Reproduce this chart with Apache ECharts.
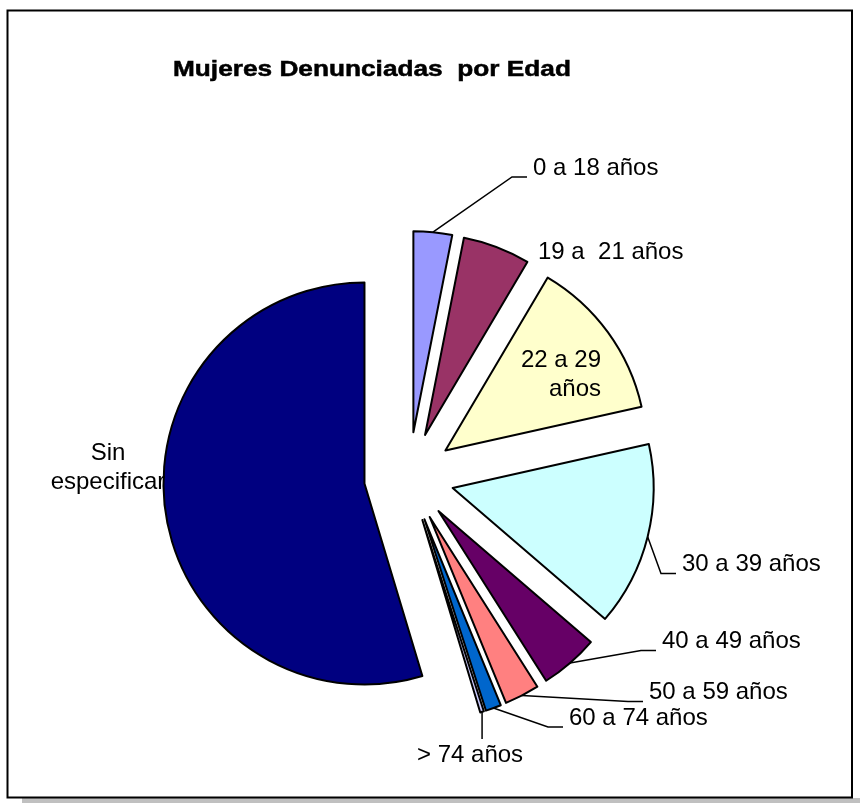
<!DOCTYPE html>
<html><head><meta charset="utf-8">
<script src="https://cdn.jsdelivr.net/npm/echarts@6/dist/echarts.min.js"></script>
<style>html,body{margin:0;padding:0;background:#fff}#c{width:860px;height:804px}</style>
</head><body><div id="c"></div>
<script>
// ---- data ----
const categories = ['0 a 18 años', '19 a  21 años', '22 a 29 años', '30 a 39 años', '40 a 49 años', '50 a 59 años', '60 a 74 años', '> 74 años', 'Sin especificar'];
const labelTexts = ['0 a 18 años', '19 a  21 años', '22 a 29\naños', '30 a 39 años', '40 a 49 años', '50 a 59 años', '60 a 74 años', '> 74 años', 'Sin\nespecificar'];
const values = [3.1, 5.4, 13.0, 14.8, 4.7, 2.8, 1.25, 0.3, 54.65];
const titleText = 'Mujeres Denunciadas  por Edad';

// ---- style / layout ----
const colors = ['#9999FF', '#993366', '#FFFFCC', '#CCFFFF', '#660066', '#FF8080', '#0066CC', '#CCCCFF', '#000080'];
const labelAnchors = [[533, 168], [538, 252.5], [601, 375], [682, 564.5], [662, 641.5], [649, 692.5], [569, 718], [417, 755], [108, 467.5]];
const labelAligns = ['left', 'left', 'right', 'left', 'left', 'left', 'left', 'left', 'center'];
const leaderKinds = ['elbow', 'none', 'none', 'elbow', 'elbow', 'elbow', 'elbow', 'down', 'none'];
const CX = 409, CY = 477, R = 201, EXPLODE = 45;

const total = values.reduce((a, b) => a + b, 0);
let cum = 0;
const series = values.map((v, i) => {
  const mid = (cum + v / 2) / total * 2 * Math.PI;
  cum += v;
  const center = [CX + EXPLODE * Math.sin(mid), CY - EXPLODE * Math.cos(mid)];
  return {
    type: 'pie', center: center, radius: [0, R], startAngle: 90, clockwise: true,
    silent: true, animation: false, avoidLabelOverlap: false, minAngle: 0,
    emphasis: { disabled: true },
    label: { show: false }, labelLine: { show: false },
    data: values.map((vv, j) => ({
      name: categories[j], value: vv,
      itemStyle: j === i ? { color: colors[j], borderColor: '#000', borderWidth: 2 } : { color: 'rgba(0,0,0,0)', borderWidth: 0 },
      label: j === i ? { show: true, position: 'outside', formatter: labelTexts[j], color: '#000', fontFamily: '"Liberation Sans", Arial, sans-serif', fontSize: 24, lineHeight: 29 } : { show: false },
      labelLine: j === i ? { show: leaderKinds[j] !== 'none', length: 10, length2: 10, lineStyle: { color: '#000', width: 1.5 } } : { show: false }
    })),
    labelLayout: function (p) {
      if (p.dataIndex !== i) return {};
      const ax = labelAnchors[i][0], ay = labelAnchors[i][1];
      const out = { x: ax, y: ay, align: labelAligns[i], verticalAlign: 'middle' };
      const pts = p.labelLinePoints;
      if (pts && leaderKinds[i] === 'elbow') {
        out.labelLinePoints = [pts[0], [ax - 21, ay + 9], [ax - 6, ay + 9]];
      } else if (pts && leaderKinds[i] === 'down') {
        out.labelLinePoints = [pts[0], [pts[0][0], ay - 16], [pts[0][0], ay - 16]];
      }
      return out;
    }
  };
});

const chart = echarts.init(document.getElementById('c'), null, { renderer: 'canvas' });
chart.setOption({
  backgroundColor: '#fff',
  animation: false,
  series: series,
  graphic: [
    { type: 'rect', silent: true, z: -10, shape: { x: 22, y: 798, width: 838, height: 5 }, style: { fill: '#c0c0c0' } },
    { type: 'rect', silent: true, z: -5, shape: { x: 7.5, y: 10.5, width: 844.5, height: 787 }, style: { fill: 'none', stroke: '#000', lineWidth: 2 } },
    { type: 'text', silent: true, x: 173, y: 70, scaleX: 1.22, style: { text: titleText, fontFamily: '"Liberation Sans", Arial, sans-serif', fontWeight: 'bold', fontSize: 21.5, fill: '#000', stroke: '#000', lineWidth: 0.5, align: 'left', verticalAlign: 'middle' } }
  ]
});
</script>
</body></html>
